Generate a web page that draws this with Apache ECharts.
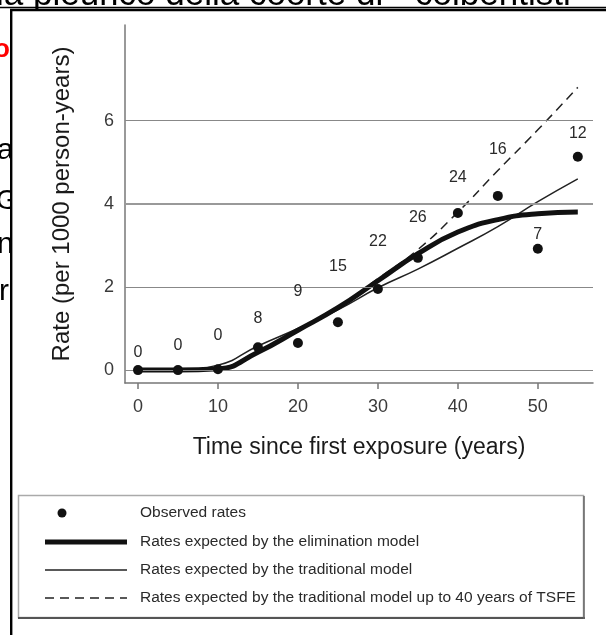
<!DOCTYPE html>
<html>
<head>
<meta charset="utf-8">
<script src="https://cdn.jsdelivr.net/npm/echarts@6/dist/echarts.min.js"></script>
<style>
html,body{margin:0;padding:0;background:#fff;}
#c{width:606px;height:635px;}
</style>
</head>
<body>
<div id="c"></div>
<script>
// ---- data ----
const years = [0, 5, 10, 15, 20, 25, 30, 35, 40, 45, 50, 55];
const observedRates = [0, 0, 0.02, 0.55, 0.65, 1.15, 1.95, 2.7, 3.78, 4.19, 2.92, 5.13];
const caseCounts = ['0', '0', '0', '8', '9', '15', '22', '26', '24', '16', '7', '12'];
const countLabelY = [0.43, 0.6, 0.84, 1.25, 1.88, 2.48, 3.08, 3.66, 4.63, 5.3, 3.25, 5.7];
const eliminationModel = [0, 0, 0.03, 0.43, 0.96, 1.5, 2.15, 2.8, 3.32, 3.62, 3.76, 3.8];
const traditionalModel = [0, 0.01, 0.12, 0.58, 1.0, 1.45, 1.98, 2.43, 2.93, 3.45, 4.05, 4.6];
const traditionalTo40 = [0, 0, 0.05, 0.45, 0.96, 1.52, 2.2, 2.9, 3.8, 4.8, 5.78, 6.8];
const xTicks = [0, 10, 20, 30, 40, 50];
const yTicks = [0, 2, 4, 6];
const legendNames = ['Observed rates', 'Rates expected by the elimination model', 'Rates expected by the traditional model', 'Rates expected by the traditional model up to 40 years of TSFE'];

const pairs = arr => years.map((y, i) => [y, arr[i]]);

const chart = echarts.init(document.getElementById('c'), null, {renderer: 'canvas'});
const ink = '#111';
const txt = '#2a2a2a';
const font = 'Liberation Sans, Arial, sans-serif';

const legendRowsY = [513, 542, 570, 598];
const legendGraphics = [
  {type: 'rect', z: -4, shape: {x: 18.5, y: 495.5, width: 565, height: 122}, style: {fill: '#fff', stroke: '#aaa', lineWidth: 1.5}},
  {type: 'line', z: -3, shape: {x1: 18, y1: 618, x2: 585, y2: 618}, style: {stroke: '#555', lineWidth: 2}},
  {type: 'line', z: -3, shape: {x1: 584, y1: 496, x2: 584, y2: 619}, style: {stroke: '#666', lineWidth: 1.5}},
  {type: 'circle', shape: {cx: 62, cy: legendRowsY[0], r: 4.5}, style: {fill: ink}},
  {type: 'line', shape: {x1: 45, y1: legendRowsY[1], x2: 127, y2: legendRowsY[1]}, style: {stroke: ink, lineWidth: 5}},
  {type: 'line', shape: {x1: 45, y1: legendRowsY[2], x2: 127, y2: legendRowsY[2]}, style: {stroke: '#222', lineWidth: 1.5}},
  {type: 'line', shape: {x1: 45, y1: legendRowsY[3], x2: 127, y2: legendRowsY[3]}, style: {stroke: '#222', lineWidth: 1.5, lineDash: [9, 6]}}
];
legendNames.forEach((n, i) => {
  legendGraphics.push({type: 'text', x: 140, y: legendRowsY[i], style: {text: n, fill: txt, font: '15.5px ' + font, textVerticalAlign: 'middle'}});
});

const bgGraphics = [
  {type: 'text', z: -10, x: -4, y: 13, style: {text: 'la pleurico della coorte di  "coibentisti"', fill: '#000', font: '35px ' + font, textVerticalAlign: 'bottom'}},
  {type: 'line', z: -10, shape: {x1: 0, y1: 7.5, x2: 606, y2: 7.5}, style: {stroke: '#000', lineWidth: 1.5}},
  {type: 'text', z: -10, x: -6, y: 63, style: {text: 'o', fill: '#ff0000', font: 'bold 26px ' + font, textVerticalAlign: 'bottom'}},
  {type: 'text', z: -10, x: -3, y: 166, style: {text: 'a', fill: '#000', font: '30px ' + font, textVerticalAlign: 'bottom'}},
  {type: 'text', z: -10, x: -4, y: 215, style: {text: 'G', fill: '#000', font: '28px ' + font, textVerticalAlign: 'bottom'}},
  {type: 'text', z: -10, x: -3, y: 260, style: {text: 'n', fill: '#000', font: '30px ' + font, textVerticalAlign: 'bottom'}},
  {type: 'text', z: -10, x: -1, y: 307, style: {text: 'r', fill: '#000', font: '30px ' + font, textVerticalAlign: 'bottom'}},
  {type: 'rect', z: -5, shape: {x: 11.2, y: 10, width: 640, height: 660}, style: {fill: '#fff', stroke: '#000', lineWidth: 2.4}}
];

const option = {
  animation: false,
  backgroundColor: '#fff',
  textStyle: {fontFamily: font},
  graphic: {elements: bgGraphics.concat(legendGraphics)},
  grid: {left: 125, right: 13, top: 25, bottom: 252, containLabel: false},
  xAxis: {
    type: 'value', min: -1.625, max: 56.9,
    axisLine: {show: true, onZero: false, lineStyle: {color: '#777', width: 1.5}},
    axisTick: {show: true, customValues: xTicks, length: 6, lineStyle: {color: '#777', width: 1.5}},
    axisLabel: {customValues: xTicks, fontSize: 18, color: '#3a3a3a', margin: 15},
    splitLine: {show: false},
    name: 'Time since first exposure (years)', nameLocation: 'middle', nameGap: 53,
    nameTextStyle: {fontSize: 23, color: '#1a1a1a'}
  },
  yAxis: {
    type: 'value', min: -0.31, max: 8.3,
    axisLine: {show: true, onZero: false, lineStyle: {color: '#777', width: 1.5}},
    axisTick: {show: false},
    axisLabel: {customValues: yTicks, fontSize: 18, color: '#3a3a3a', margin: 11},
    splitLine: {show: false},
    name: 'Rate (per 1000 person-years)', nameLocation: 'middle', nameGap: 51, nameRotate: 90,
    nameTextStyle: {fontSize: 24, color: '#1a1a1a'}
  },
  series: [
    {
      name: 'grid', type: 'line', data: [], silent: true,
      markLine: {
        silent: true, symbol: 'none', label: {show: false},
        data: yTicks.map(v => ({yAxis: v, lineStyle: {color: v === 4 ? '#999' : '#888', width: v === 4 ? 2.2 : 1.2, type: 'solid'}}))
      }
    },
    {name: legendNames[3], type: 'line', data: pairs(traditionalTo40), smooth: 0.5, symbol: 'none',
     lineStyle: {color: '#222', width: 1.5, type: [9, 6]}, z: 3},
    {name: legendNames[2], type: 'line', data: pairs(traditionalModel), smooth: 0.5, symbol: 'none',
     lineStyle: {color: '#222', width: 1.5}, z: 3},
    {name: legendNames[1], type: 'line', data: pairs(eliminationModel), smooth: 0.5, symbol: 'none',
     lineStyle: {color: ink, width: 5}, z: 4},
    {name: legendNames[0], type: 'scatter', data: pairs(observedRates), symbolSize: 10, itemStyle: {color: ink, opacity: 1}, z: 5},
    {name: 'counts', type: 'scatter', data: pairs(countLabelY), symbolSize: 0, silent: true, z: 6,
     itemStyle: {opacity: 1},
     label: {show: true, position: 'inside', formatter: p => caseCounts[p.dataIndex], fontSize: 16, color: txt}}
  ]
};
chart.setOption(option);
</script>
</body>
</html>
